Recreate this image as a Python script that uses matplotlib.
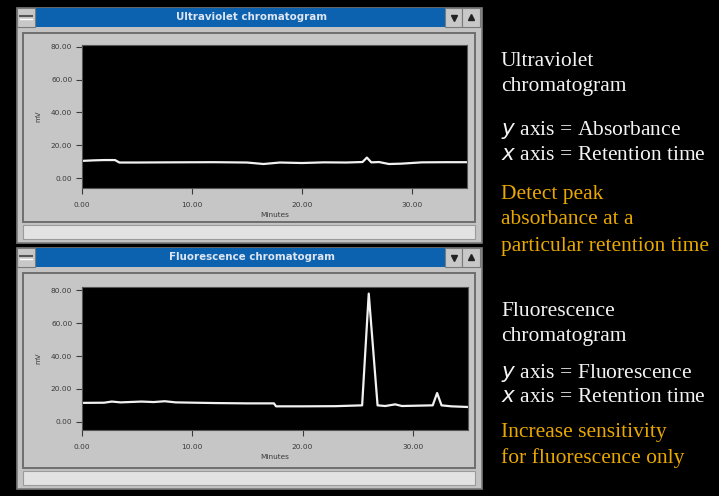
import matplotlib
matplotlib.use("Agg")
import matplotlib.pyplot as plt
from matplotlib.patches import Rectangle

# Valores (tempo em minutos)
uv_tempo = [0, 1, 2, 3.0, 3.4, 5, 8, 12, 15, 16.5, 18, 20, 22, 24, 25.5, 25.9, 26.3, 27, 27.9, 29, 30.9, 33, 35]
uv_sinal = [10.5, 10.8, 11, 11, 9.5, 9.5, 9.6, 9.7, 9.5, 8.6, 9.5, 9.2, 9.6, 9.5, 9.8, 12.5, 9.6, 9.8, 8.6, 8.8, 9.6, 9.7, 9.7]

fl_tempo = [0, 2.0, 2.7, 3.5, 5.4, 6.5, 7.5, 8.5, 12, 15, 17.4, 17.6, 20, 23, 25.4, 26.0, 26.8, 27.5, 28.4, 29, 31.8, 32.2, 32.6, 33.5, 35]
fl_sinal = [11.5, 11.6, 12.3, 11.8, 12.3, 12.0, 12.5, 11.8, 11.4, 11.2, 11.2, 9.4, 9.4, 9.5, 10.0, 78, 10.0, 9.6, 10.6, 9.6, 10.0, 17.5, 10.0, 9.4, 9.0]

x_ticks = [0, 10, 20, 30]
x_labels = ["0.00", "10.00", "20.00", "30.00"]
y_ticks = [0, 20, 40, 60, 80]
y_labels = ["0.00", "20.00", "40.00", "60.00", "80.00"]

titulos = ["Ultraviolet chromatogram", "Fluorescence chromatogram"]

W, H = 719, 496
fig = plt.figure(figsize=(W / 100, H / 100), dpi=100, facecolor="black")

# camada de fundo em pixels, para desenhar as "janelas"
bg = fig.add_axes([0, 0, 1, 1], zorder=0)
bg.set_xlim(0, W)
bg.set_ylim(H, 0)
bg.axis("off")
bg.set_facecolor("black")


def janela(y0, y1, titulo):
    # moldura externa
    bg.add_patch(Rectangle((17, y0), 465, y1 - y0, facecolor="#c3c3c3", edgecolor="#7a7a7a", lw=1.2))
    # barra de titulo
    bg.add_patch(Rectangle((35, y0), 410, 19, facecolor="#0d62b0", edgecolor="none"))
    bg.text(252, y0 + 9.5, titulo, color="#dde6f2", fontsize=7.4, fontweight="bold",
            ha="center", va="center")
    # botao de menu
    bg.add_patch(Rectangle((17, y0), 18, 19, facecolor="#c8c8c8", edgecolor="#7a7a7a", lw=0.8))
    bg.plot([20, 32], [y0 + 8, y0 + 8], color="#555555", lw=1.5)
    bg.plot([20, 32], [y0 + 11, y0 + 11], color="#ffffff", lw=1)
    # botoes de seta
    bg.add_patch(Rectangle((445, y0), 17, 19, facecolor="#c8c8c8", edgecolor="#7a7a7a", lw=0.8))
    bg.add_patch(Rectangle((462, y0), 18, 19, facecolor="#c8c8c8", edgecolor="#7a7a7a", lw=0.8))
    bg.plot([453.5], [y0 + 10], marker="v", color="#222222", ms=5)
    bg.plot([471], [y0 + 9], marker="^", color="#222222", ms=5)
    # painel interno
    bg.add_patch(Rectangle((23, y0 + 25), 452, y1 - y0 - 46, facecolor="#c6c6c6",
                           edgecolor="#6e6e6e", lw=1.4))
    # barra de status
    bg.add_patch(Rectangle((23, y1 - 18), 452, 14, facecolor="#e2e2e2", edgecolor="#9a9a9a", lw=0.8))


janela(8, 243, titulos[0])
janela(248, 489, titulos[1])


def grafico(px0, py0, px1, py1, tempo, sinal, ylim):
    ax = fig.add_axes([px0 / W, 1 - py1 / H, (px1 - px0) / W, (py1 - py0) / H], zorder=2)
    ax.set_facecolor("black")
    ax.plot(tempo, sinal, color="#f2f2f2", lw=1.6)
    ax.set_xlim(0, 35)
    ax.set_ylim(*ylim)
    ax.set_xticks(x_ticks)
    ax.set_xticklabels(x_labels)
    ax.set_yticks(y_ticks)
    ax.set_yticklabels(y_labels)
    ax.tick_params(colors="#3a3a3a", labelsize=5.3, length=4, width=0.8, pad=3)
    ax.tick_params(axis="x", pad=6)
    for s in ax.spines.values():
        s.set_color("#555555")
        s.set_linewidth(0.8)
    ax.set_xlabel("Minutes", fontsize=5.3, color="#3a3a3a", labelpad=3)
    ax.set_ylabel("mV", fontsize=5, color="#3a3a3a", labelpad=7)
    return ax


grafico(82, 45, 467, 188, uv_tempo, uv_sinal, (-6, 81))
grafico(82, 287, 468, 430, fl_tempo, fl_sinal, (-5, 82))

# textos explicativos a direita
serif = ["Liberation Serif", "DejaVu Serif"]
branco = "#f4f4f4"
laranja = "#e9a800"
fs = 15.5
tx = 501

bg.text(tx, 62, "Ultraviolet", color=branco, fontsize=fs, family=serif, va="center")
bg.text(tx, 87, "chromatogram", color=branco, fontsize=fs, family=serif, va="center")
bg.text(tx, 130, r"$\it{y}$ axis = Absorbance", color=branco, fontsize=fs, family=serif, va="center")
bg.text(tx, 155, r"$\it{x}$ axis = Retention time", color=branco, fontsize=fs, family=serif, va="center")
bg.text(tx, 195, "Detect peak", color=laranja, fontsize=fs, family=serif, va="center")
bg.text(tx, 220, "absorbance at a", color=laranja, fontsize=fs, family=serif, va="center")
bg.text(tx, 246, "particular retention time", color=laranja, fontsize=fs, family=serif, va="center")

bg.text(tx, 312, "Fluorescence", color=branco, fontsize=fs, family=serif, va="center")
bg.text(tx, 337, "chromatogram", color=branco, fontsize=fs, family=serif, va="center")
bg.text(tx, 373, r"$\it{y}$ axis = Fluorescence", color=branco, fontsize=fs, family=serif, va="center")
bg.text(tx, 398, r"$\it{x}$ axis = Retention time", color=branco, fontsize=fs, family=serif, va="center")
bg.text(tx, 433, "Increase sensitivity", color=laranja, fontsize=fs, family=serif, va="center")
bg.text(tx, 458, "for fluorescence only", color=laranja, fontsize=fs, family=serif, va="center")

fig.savefig("out.png", dpi=100, facecolor="black")
